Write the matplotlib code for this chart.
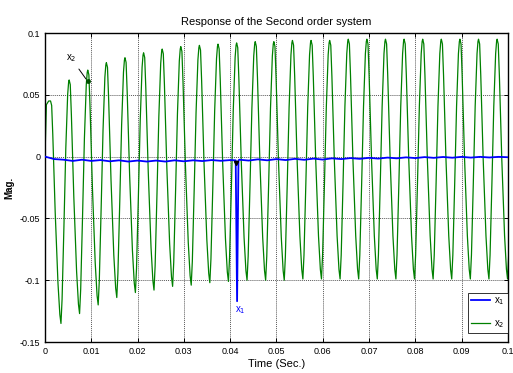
import numpy as np
import matplotlib
matplotlib.use("Agg")
import matplotlib.pyplot as plt

# ---- data ----
period = 0.00402           # oscillation period of x2 (s)
first_peak_t = 0.0012      # time of first x2 peak
x2_peaks = [0.045, 0.062, 0.070, 0.076, 0.080, 0.084, 0.087, 0.089, 0.090, 0.091,
            0.092, 0.093, 0.093, 0.094, 0.094, 0.094, 0.095, 0.095, 0.095, 0.095,
            0.095, 0.095, 0.095, 0.095, 0.095]
x2_troughs = [-0.135, -0.127, -0.120, -0.114, -0.110, -0.108, -0.105, -0.104, -0.102, -0.101,
              -0.100, -0.100, -0.100, -0.099, -0.099, -0.099, -0.099, -0.099, -0.099, -0.099,
              -0.099, -0.099, -0.099, -0.099, -0.099]
x2_start_t = [0.0, 0.0003, 0.0008]
x2_start_v = [0.0, 0.042, 0.045]
# one-cycle shape: phase (fraction of period after a peak), level (1 = peak, 0 = trough)
fall_phase = [0.00, 0.06, 0.12, 0.25, 0.40, 0.50, 0.56]
fall_level = [1.00, 0.98, 0.85, 0.50, 0.18, 0.04, 0.00]
rise_phase = [0.62, 0.72, 0.82, 0.92, 0.97]
rise_level = [0.10, 0.40, 0.72, 0.94, 0.99]

x1_t = [0.000, 0.002, 0.004, 0.006, 0.008, 0.010, 0.012, 0.014, 0.016, 0.018,
        0.020, 0.022, 0.024, 0.026, 0.028, 0.030, 0.032, 0.034, 0.036, 0.038,
        0.040, 0.0412, 0.0415, 0.0418, 0.042, 0.044, 0.046, 0.048, 0.050, 0.052,
        0.054, 0.056, 0.058, 0.060, 0.062, 0.064, 0.066, 0.068, 0.070, 0.072,
        0.074, 0.076, 0.078, 0.080, 0.082, 0.084, 0.086, 0.088, 0.090, 0.092,
        0.094, 0.096, 0.098, 0.100]
x1_v = [0.000, -0.002, -0.0025, -0.0035, -0.0025, -0.0035, -0.0028, -0.0038, -0.003, -0.004,
        -0.0032, -0.004, -0.0032, -0.004, -0.003, -0.0038, -0.003, -0.0036, -0.0028, -0.0034,
        -0.0028, -0.003, -0.117, -0.003, -0.0025, -0.0032, -0.0022, -0.003, -0.002, -0.0028,
        -0.0018, -0.0026, -0.0016, -0.0024, -0.0014, -0.002, -0.0012, -0.0018, -0.001, -0.0016,
        -0.0008, -0.0014, -0.0006, -0.0012, -0.0004, -0.001, -0.0003, -0.0009, -0.0002, -0.0008,
        -0.0002, -0.0007, -0.0002, -0.0005]

title = "Response of the Second order system"
xticks = [0, 0.01, 0.02, 0.03, 0.04, 0.05, 0.06, 0.07, 0.08, 0.09, 0.1]
xticklabels = ["0", "0.01", "0.02", "0.03", "0.04", "0.05", "0.06", "0.07", "0.08", "0.09", "0.1"]
yticks = [-0.15, -0.1, -0.05, 0, 0.05, 0.1]
yticklabels = ["-0.15", "-0.1", "-0.05", "0", "0.05", "0.1"]

# ---- build x2 vertex list from read peaks/troughs and cycle shape ----
t2 = list(x2_start_t)
v2 = list(x2_start_v)
n = len(x2_peaks)
for k in range(n):
    tp = first_peak_t + k * period
    P, T = x2_peaks[k], x2_troughs[k]
    for ph, lv in zip(fall_phase, fall_level):
        t2.append(tp + ph * period)
        v2.append(T + lv * (P - T))
    Pn = x2_peaks[k + 1] if k + 1 < n else x2_peaks[-1]
    for ph, lv in zip(rise_phase, rise_level):
        t2.append(tp + ph * period)
        v2.append(T + lv * (Pn - T))
t2 = np.array(t2)
v2 = np.array(v2)

plt.rcParams['font.family'] = ['Liberation Sans', 'DejaVu Sans']
fig = plt.figure(figsize=(5.13, 3.73), dpi=100)
ax = fig.add_axes([0.0877, 0.0831, 0.9023, 0.8284])

blue = "#0000ff"
green = "#008000"
ax.plot(x1_t, x1_v, color=blue, lw=1.3, label="x$_1$", zorder=3)
ax.plot(t2, v2, color=green, lw=0.9, label="x$_2$", zorder=2)

ax.set_xlim(0, 0.1)
ax.set_ylim(-0.15, 0.1)
ax.set_xticks(xticks)
ax.set_xticklabels(xticklabels)
ax.set_yticks(yticks)
ax.set_yticklabels(yticklabels)
ax.tick_params(direction="in", labelsize=6.5, length=3, top=True, right=True, width=0.7)
ax.grid(True, color="0.35", linestyle=(0, (1, 1)), lw=0.7)
for s in ax.spines.values():
    s.set_linewidth(1.0)

ax.set_title(title, fontsize=8, pad=6)
ax.set_xlabel("Time (Sec.)", fontsize=8, labelpad=2)
ax.set_ylabel("Mag.", fontsize=7, fontweight="bold", labelpad=4)

# annotations
ax.annotate("x$_2$", xy=(0.0092, 0.061), xytext=(0.0045, 0.078), fontsize=7,
            arrowprops=dict(arrowstyle="-", color="black", lw=0.7))
ax.plot([0.0092], [0.061], "o", color="#005000", ms=2.5, zorder=4)
ax.text(0.0410, -0.126, "x$_1$", fontsize=7, color=blue)
ax.plot([0.0412], [-0.005], "v", color="black", ms=3, zorder=4)

leg = ax.legend(loc="lower right", bbox_to_anchor=(1.0, 0.03), fontsize=7,
                handlelength=2.0, frameon=True, fancybox=False, edgecolor="black",
                borderpad=0.3, labelspacing=1.1, borderaxespad=0.0, handletextpad=0.4)
leg.get_frame().set_linewidth(0.7)

fig.savefig("out.png", dpi=100)
